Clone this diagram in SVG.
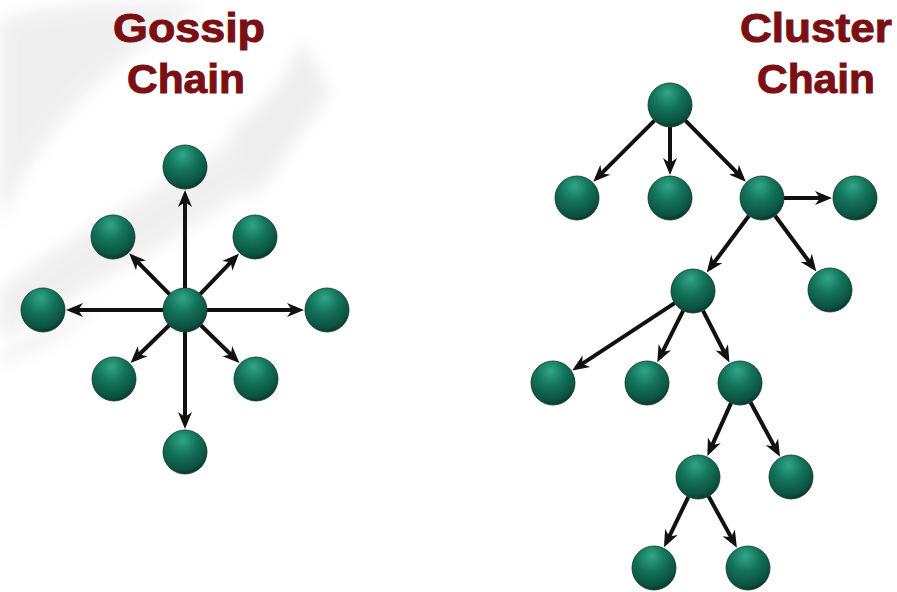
<svg xmlns="http://www.w3.org/2000/svg" width="897" height="592" viewBox="0 0 897 592">
  <defs>
    <radialGradient id="ball" cx="0.42" cy="0.3" r="0.72" fx="0.45" fy="0.22">
      <stop offset="0" stop-color="#32a587"/>
      <stop offset="0.45" stop-color="#137459"/>
      <stop offset="0.85" stop-color="#0c5241"/>
      <stop offset="1" stop-color="#07352a"/>
    </radialGradient>
    <marker id="arrow" markerUnits="userSpaceOnUse" viewBox="0 -8 18 16" refX="12" refY="0" markerWidth="18" markerHeight="16" orient="auto">
      <path d="M0,-7 L17,0 L0,7 L5,0 Z" fill="#111"/>
    </marker>
    <filter id="soft" x="-20%" y="-20%" width="140%" height="140%">
      <feGaussianBlur stdDeviation="8"/>
    </filter>
    <style>
      .title { font-family: "Liberation Sans", Arial, sans-serif; font-weight: bold; font-size: 41px; fill: #7a1013; stroke: #7a1013; stroke-width: 1; text-anchor: middle; }
      .node { fill: url(#ball); stroke: #0a3329; stroke-width: 0.8; }
      .edge { stroke: #111; stroke-width: 4; fill: none; marker-end: url(#arrow); }
    </style>
  </defs>

  <rect width="897" height="592" fill="#ffffff"/>

  <!-- faint grey globe texture behind the left figure -->
  <g id="backdrop" filter="url(#soft)" opacity="0.35">
    <path d="M0,20 C60,0 140,0 200,5 C150,40 90,80 40,150 C20,180 5,210 0,230 Z" fill="#d4d4d4"/>
    <path d="M0,290 C60,240 140,200 220,150 C260,120 290,90 310,60 L330,90 C300,150 240,200 170,240 C110,275 50,310 0,340 Z" fill="#d4d4d4"/>
    <path d="M230,130 C260,110 290,80 300,40 L320,70 C310,120 280,170 250,200 Z" fill="#cfcfcf"/>
    <path d="M0,350 C40,330 80,315 110,300 L60,340 C40,350 20,360 0,365 Z" fill="#e0e0e0"/>
  </g>

  <!-- titles -->
  <g id="title-gossip">
    <text class="title" x="189" y="42" textLength="152" lengthAdjust="spacingAndGlyphs">Gossip</text>
    <text class="title" x="186" y="93" textLength="118" lengthAdjust="spacingAndGlyphs">Chain</text>
  </g>
  <g id="title-cluster">
    <text class="title" x="816" y="42" textLength="152" lengthAdjust="spacingAndGlyphs">Cluster</text>
    <text class="title" x="816" y="93" textLength="118" lengthAdjust="spacingAndGlyphs">Chain</text>
  </g>

  <!-- connectors -->
  <g id="connectors">
    <!-- gossip star -->
    <line class="edge" x1="185" y1="288" x2="185" y2="195"/>
    <line class="edge" x1="185" y1="332" x2="185" y2="424"/>
    <line class="edge" x1="163" y1="310" x2="71" y2="310"/>
    <line class="edge" x1="207" y1="310" x2="299" y2="310"/>
    <line class="edge" x1="169.6" y1="294.3" x2="132.6" y2="256.9"/>
    <line class="edge" x1="200.2" y1="294.1" x2="235.6" y2="257.2"/>
    <line class="edge" x1="169.2" y1="325.3" x2="134.1" y2="359.5"/>
    <line class="edge" x1="200.8" y1="325.3" x2="235.9" y2="359.5"/>
    <!-- cluster tree -->
    <line class="edge" x1="654.4" y1="120.6" x2="596.8" y2="178.2"/>
    <line class="edge" x1="670" y1="127" x2="670" y2="170"/>
    <line class="edge" x1="685.5" y1="120.6" x2="742.3" y2="178.1"/>
    <line class="edge" x1="784" y1="198" x2="827" y2="198"/>
    <line class="edge" x1="775.1" y1="215.7" x2="813.4" y2="267.5"/>
    <line class="edge" x1="748.9" y1="215.7" x2="709.7" y2="268.5"/>
    <line class="edge" x1="674.6" y1="303.1" x2="576.4" y2="367.7"/>
    <line class="edge" x1="683.2" y1="310.7" x2="659.5" y2="357.9"/>
    <line class="edge" x1="703" y1="310.6" x2="727.2" y2="358"/>
    <line class="edge" x1="731" y1="403.1" x2="709.4" y2="451.4"/>
    <line class="edge" x1="750.5" y1="402.3" x2="777.6" y2="452.4"/>
    <line class="edge" x1="688.4" y1="496.8" x2="666.2" y2="542.8"/>
    <line class="edge" x1="708.6" y1="496.3" x2="734.5" y2="543.4"/>
  </g>

  <!-- gossip chain nodes -->
  <g id="g-center"><circle class="node" cx="185" cy="310" r="22"/></g>
  <g id="g-top"><circle class="node" cx="185" cy="167" r="22"/></g>
  <g id="g-bottom"><circle class="node" cx="185" cy="452" r="22"/></g>
  <g id="g-left"><circle class="node" cx="43" cy="310" r="22"/></g>
  <g id="g-right"><circle class="node" cx="327" cy="310" r="22"/></g>
  <g id="g-upper-left"><circle class="node" cx="113" cy="237" r="22"/></g>
  <g id="g-upper-right"><circle class="node" cx="255" cy="237" r="22"/></g>
  <g id="g-lower-left"><circle class="node" cx="114" cy="379" r="22"/></g>
  <g id="g-lower-right"><circle class="node" cx="256" cy="379" r="22"/></g>

  <!-- cluster chain nodes -->
  <g id="c-root"><circle class="node" cx="670" cy="105" r="22"/></g>
  <g id="c-a"><circle class="node" cx="577" cy="198" r="22"/></g>
  <g id="c-b"><circle class="node" cx="670" cy="198" r="22"/></g>
  <g id="c-c"><circle class="node" cx="762" cy="198" r="22"/></g>
  <g id="c-d"><circle class="node" cx="855" cy="198" r="22"/></g>
  <g id="c-e"><circle class="node" cx="830" cy="290" r="22"/></g>
  <g id="c-f"><circle class="node" cx="693" cy="291" r="22"/></g>
  <g id="c-g"><circle class="node" cx="553" cy="383" r="22"/></g>
  <g id="c-h"><circle class="node" cx="647" cy="383" r="22"/></g>
  <g id="c-i"><circle class="node" cx="740" cy="383" r="22"/></g>
  <g id="c-j"><circle class="node" cx="791" cy="477" r="22"/></g>
  <g id="c-k"><circle class="node" cx="698" cy="477" r="22"/></g>
  <g id="c-l"><circle class="node" cx="654" cy="568" r="22"/></g>
  <g id="c-m"><circle class="node" cx="748" cy="568" r="22"/></g>
</svg>
